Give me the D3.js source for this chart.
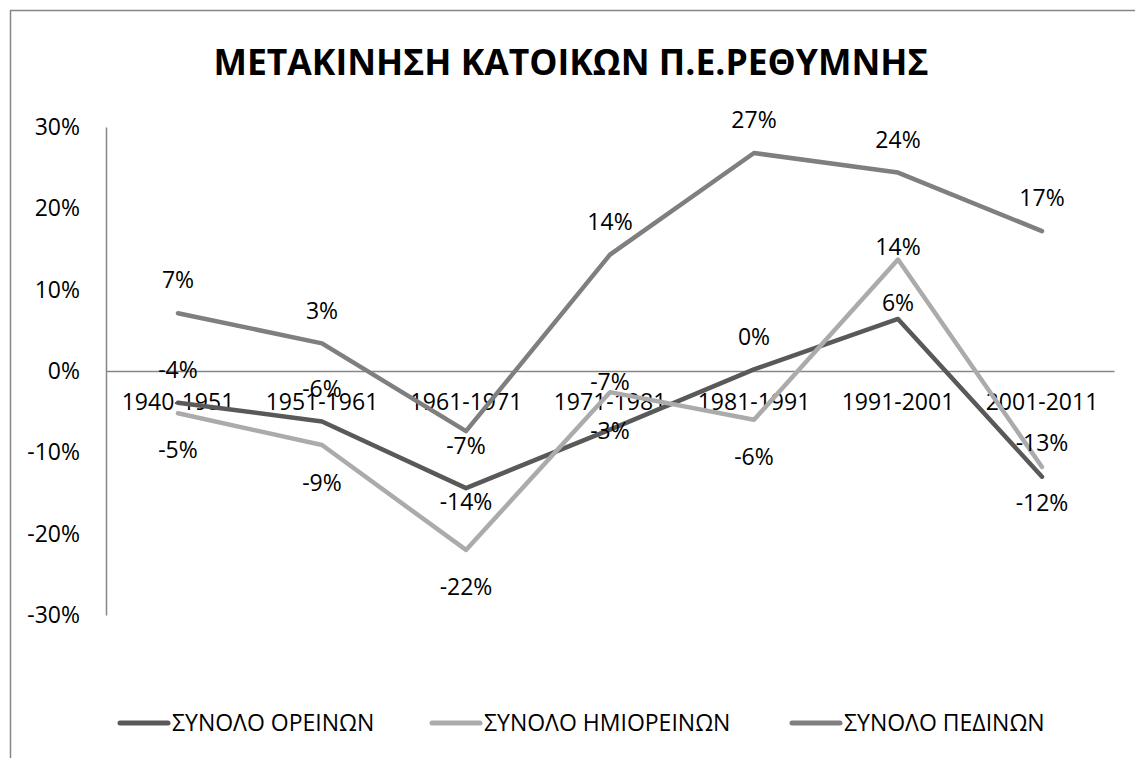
<!DOCTYPE html>
<meta charset='utf-8'>
<style>
body { margin: 0; background: #fff; }
svg text { font-family: 'Open Sans', 'Noto Sans', sans-serif; fill: #000; }
.title { font-weight: bold; font-size: 35.5px; }
.tick-lbl, .cat-lbl, .data-lbl { font-size: 23px; }
.legend text { font-size: 23px; }
</style>
<script src='https://cdn.jsdelivr.net/npm/d3@7'></script>
<body>
<script>
'use strict'

// Data - population change per decade (fractions)
let categories = ['1940-1951', '1951-1961', '1961-1971', '1971-1981', '1981-1991', '1991-2001', '2001-2011'],
	oreinon = [-0.039, -0.062, -0.144, -0.072, 0.002, 0.064, -0.130],
	imioreinon = [-0.052, -0.091, -0.220, -0.026, -0.060, 0.137, -0.118],
	pedinon = [0.071, 0.034, -0.074, 0.143, 0.268, 0.244, 0.172],
	series_names = ['ΣΥΝΟΛΟ ΟΡΕΙΝΩΝ', 'ΣΥΝΟΛΟ ΗΜΙΟΡΕΙΝΩΝ', 'ΣΥΝΟΛΟ ΠΕΔΙΝΩΝ'],
	y_ticks = [-0.3, -0.2, -0.1, 0, 0.1, 0.2, 0.3],
	title = 'ΜΕΤΑΚΙΝΗΣΗ ΚΑΤΟΙΚΩΝ Π.Ε.ΡΕΘΥΜΝΗΣ'

// Layout - data label offsets from the point (px, label centre), as placed in the original
let label_dy = [
	[-33, -32, 14, -48, -32, -16, -34],
	[37, 38, 37, 39, 37, -13, 36],
	[-33, -32, 15, -33, -33, -33, -33]]

let series = [
	{name: series_names[0], values: oreinon, color: '#595959'},
	{name: series_names[1], values: imioreinon, color: '#ababab'},
	{name: series_names[2], values: pedinon, color: '#7f7f7f'}]

let pct = d3.formatLocale({decimal: '.', thousands: ',', grouping: [3], currency: ['', ''], minus: '-'}).format('.0%')

let W = 1135, H = 758,
	plot = {left: 106, right: 1114, top: 127, bottom: 615}

let svg = d3.select('body').append('svg').attr('width', W).attr('height', H)

svg.append('rect').attr('x', 10.5).attr('y', 10.5).attr('width', W).attr('height', H)
	.attr('fill', 'none').attr('stroke', '#868686').attr('stroke-width', 1.5)

svg.append('text').attr('class', 'title')
	.attr('x', 571).attr('y', 75).attr('text-anchor', 'middle').text(title)

let x = d3.scaleBand(categories, [plot.left, plot.right]),
	y = d3.scaleLinear([-0.3, 0.3], [plot.bottom, plot.top]),
	cx = c => x(c) + x.bandwidth() / 2

// y axis
let ya = svg.append('g').attr('transform', `translate(${plot.left},0)`)
	.call(d3.axisLeft(y).tickValues(y_ticks).tickFormat(pct).tickSize(0).tickPadding(26))
ya.select('.domain').attr('stroke', '#868686').attr('stroke-width', 1.5)
ya.selectAll('text').attr('class', 'tick-lbl').attr('font-size', null).attr('font-family', null)

// x axis at zero
let xa = svg.append('g').attr('transform', `translate(0,${y(0)})`)
	.call(d3.axisBottom(x).tickSize(0).tickPadding(23))
xa.select('.domain').attr('stroke', '#868686').attr('stroke-width', 1.5)
xa.selectAll('text').attr('class', 'cat-lbl').attr('font-size', null).attr('font-family', null)

// lines
let line = d3.line().x((d, i) => cx(categories[i])).y(d => y(d))
svg.append('g').selectAll('path').data(series).join('path')
	.attr('d', s => line(s.values))
	.attr('fill', 'none').attr('stroke', s => s.color)
	.attr('stroke-width', 4.5).attr('stroke-linejoin', 'round').attr('stroke-linecap', 'round')

// data labels
svg.append('g').selectAll('g').data(series).join('g')
	.selectAll('text').data((s, k) => s.values.map((v, i) => ({v, i, dy: label_dy[k][i]})))
	.join('text').attr('class', 'data-lbl')
		.attr('x', d => cx(categories[d.i]))
		.attr('y', d => y(d.v) + d.dy)
		.attr('dy', '.35em').attr('text-anchor', 'middle')
		.text(d => pct(d.v))

// legend
let legend_x = [118, 430, 790]
let lg = svg.append('g').attr('class', 'legend').selectAll('g').data(series).join('g')
	.attr('transform', (s, i) => `translate(${legend_x[i]},723)`)
lg.append('line').attr('x1', 2).attr('x2', 50)
	.attr('stroke', s => s.color).attr('stroke-width', 5).attr('stroke-linecap', 'round')
lg.append('text').attr('x', 54).attr('dy', '.35em').text(s => s.name)
</script>
</body>
